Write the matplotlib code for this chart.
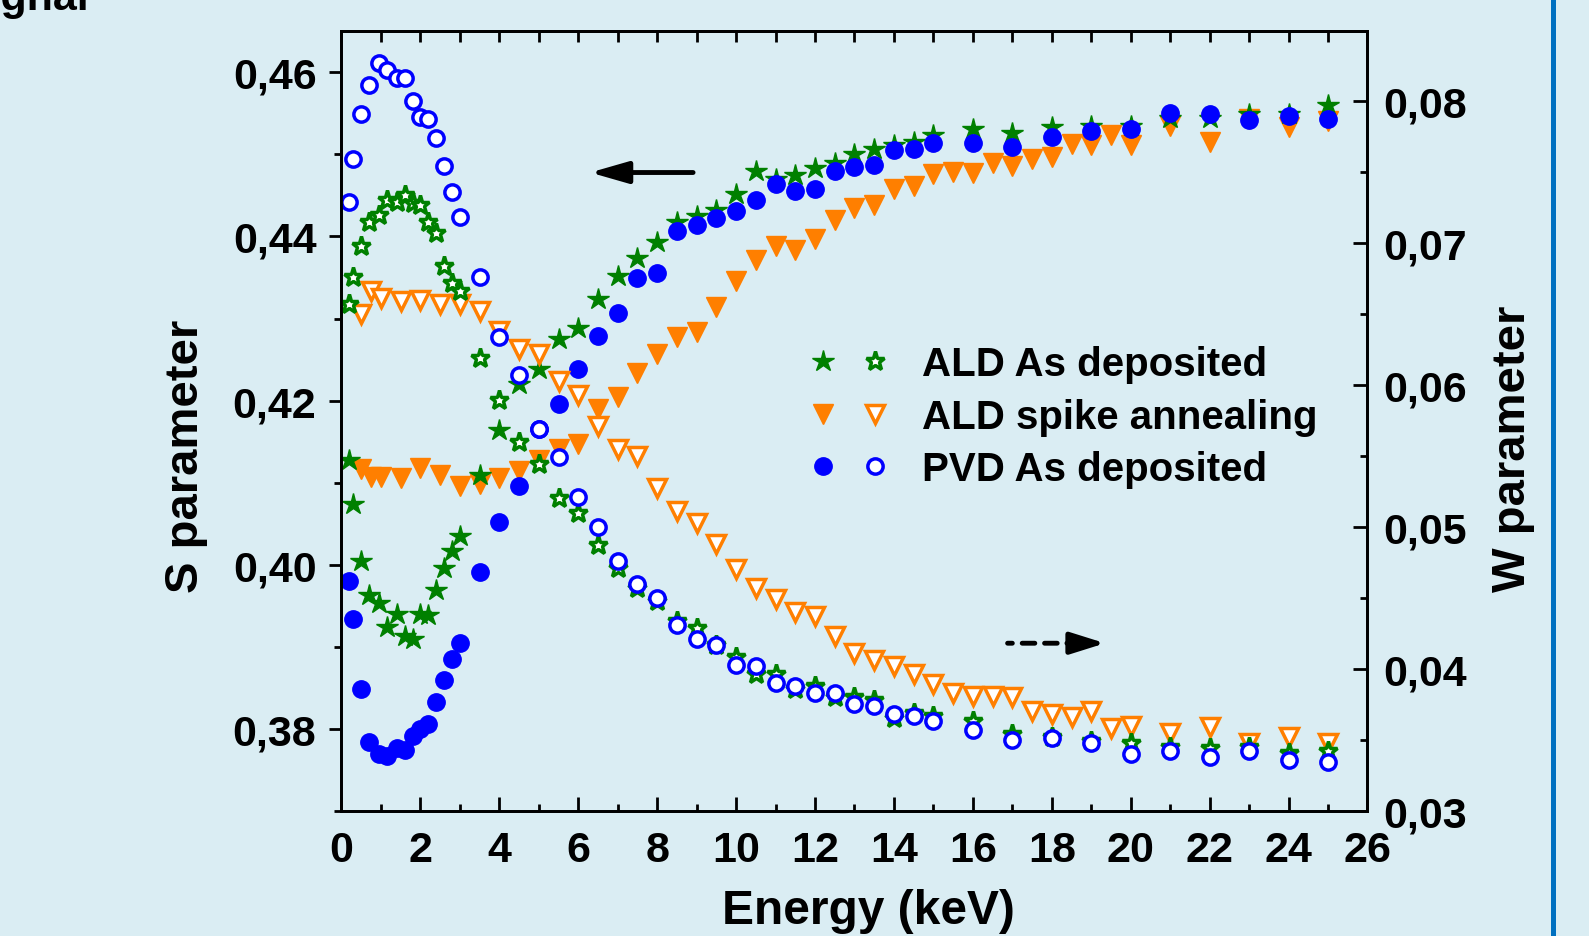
import numpy as np
import matplotlib
matplotlib.use('Agg')
import matplotlib.pyplot as plt
from matplotlib.ticker import FuncFormatter, MultipleLocator
from matplotlib.legend_handler import HandlerTuple
from matplotlib.lines import Line2D

# energies (keV) for ALD as deposited and PVD as deposited
energy = [0.2, 0.3, 0.5, 0.7, 0.95, 1.15, 1.4, 1.6, 1.8, 2.0, 2.2, 2.4, 2.6, 2.8, 3.0,
          3.5, 4.0, 4.5, 5.0, 5.5, 6.0, 6.5, 7.0, 7.5, 8.0, 8.5, 9.0, 9.5, 10.0, 10.5,
          11.0, 11.5, 12.0, 12.5, 13.0, 13.5, 14.0, 14.5, 15.0,
          16, 17, 18, 19, 20, 21, 22, 23, 24, 25]
# energies (keV) for ALD spike annealing
energy_spike = [0.5, 0.75, 1.0, 1.5, 2.0, 2.5, 3.0, 3.5, 4.0, 4.5, 5.0, 5.5, 6.0, 6.5,
                7.0, 7.5, 8.0, 8.5, 9.0, 9.5, 10.0, 10.5, 11.0, 11.5, 12.0, 12.5, 13.0,
                13.5, 14.0, 14.5, 15.0, 15.5, 16.0, 16.5, 17.0, 17.5, 18.0, 18.5, 19.0,
                19.5, 20.0, 21, 22, 23, 24, 25]

s_ald = [0.4127, 0.4074, 0.4005, 0.3963, 0.3953, 0.3924, 0.3940, 0.3913, 0.3909, 0.3940,
         0.3939, 0.3969, 0.3996, 0.4017, 0.4035, 0.4109, 0.4164, 0.4220, 0.4239, 0.4275,
         0.4288, 0.4324, 0.4352, 0.4374, 0.4393, 0.4418, 0.4425, 0.4432, 0.4452, 0.4480,
         0.4470, 0.4475, 0.4484, 0.4489, 0.4501, 0.4507, 0.4512, 0.4515, 0.4524,
         0.4531, 0.4526, 0.4533, 0.4535, 0.4535, 0.4544, 0.4544, 0.4549, 0.4549, 0.4560]
w_ald = [0.0657, 0.0676, 0.0698, 0.0715, 0.0720, 0.0730, 0.0729, 0.0734, 0.0728, 0.0727,
         0.0715, 0.0707, 0.0684, 0.0672, 0.0666, 0.0619, 0.0589, 0.0560, 0.0544, 0.0520,
         0.0510, 0.0487, 0.0471, 0.0457, 0.0448, 0.0434, 0.0429, 0.0417, 0.0408, 0.0396,
         0.0396, 0.0386, 0.0388, 0.0380, 0.0380, 0.0378, 0.0365, 0.0369, 0.0367,
         0.0363, 0.0354, 0.0352, 0.0349, 0.0348, 0.0345, 0.0344, 0.0345, 0.0341, 0.0342]

s_pvd = [0.3980, 0.3934, 0.3848, 0.3784, 0.3769, 0.3767, 0.3777, 0.3774, 0.3791, 0.3800,
         0.3806, 0.3832, 0.3859, 0.3885, 0.3904, 0.3991, 0.4052, 0.4096, 0.4165, 0.4196,
         0.4238, 0.4279, 0.4307, 0.4349, 0.4356, 0.4407, 0.4414, 0.4423, 0.4431, 0.4445,
         0.4464, 0.4456, 0.4458, 0.4480, 0.4485, 0.4487, 0.4506, 0.4507, 0.4514,
         0.4514, 0.4509, 0.4521, 0.4529, 0.4531, 0.4550, 0.4549, 0.4542, 0.4547, 0.4543]
w_pvd = [0.0729, 0.0759, 0.0791, 0.0811, 0.0827, 0.0822, 0.0816, 0.0816, 0.0800, 0.0789,
         0.0787, 0.0774, 0.0754, 0.0736, 0.0718, 0.0676, 0.0634, 0.0607, 0.0569, 0.0549,
         0.0521, 0.0500, 0.0476, 0.0460, 0.0450, 0.0431, 0.0421, 0.0417, 0.0403, 0.0402,
         0.0390, 0.0388, 0.0383, 0.0383, 0.0375, 0.0374, 0.0368, 0.0367, 0.0363,
         0.0357, 0.0350, 0.0351, 0.0348, 0.0340, 0.0342, 0.0338, 0.0342, 0.0336, 0.0334]

s_spike = [0.4117, 0.4107, 0.4107, 0.4105, 0.4118, 0.4109, 0.4096, 0.4098, 0.4105, 0.4114,
           0.4127, 0.4141, 0.4147, 0.4190, 0.4204, 0.4233, 0.4257, 0.4277, 0.4284, 0.4314,
           0.4346, 0.4371, 0.4389, 0.4384, 0.4397, 0.4420, 0.4435, 0.4439, 0.4458, 0.4461,
           0.4476, 0.4479, 0.4477, 0.4490, 0.4486, 0.4494, 0.4497, 0.4513, 0.4511, 0.4524,
           0.4511, 0.4535, 0.4515, 0.4543, 0.4533, 0.4541]
w_spike = [0.0650, 0.0666, 0.0661, 0.0659, 0.0660, 0.0657, 0.0657, 0.0652, 0.0638, 0.0625,
           0.0622, 0.0603, 0.0593, 0.0571, 0.0555, 0.0550, 0.0527, 0.0511, 0.0503, 0.0488,
           0.0470, 0.0457, 0.0449, 0.0440, 0.0437, 0.0423, 0.0411, 0.0406, 0.0402, 0.0396,
           0.0389, 0.0383, 0.0381, 0.0381, 0.0380, 0.0370, 0.0368, 0.0366, 0.0370, 0.0358,
           0.0360, 0.0355, 0.0359, 0.0348, 0.0352, 0.0348]

labels = ['ALD As deposited', 'ALD spike annealing', 'PVD As deposited']


def comma(x, pos):
    return ('%.2f' % x).replace('.', ',')


bg = '#daedf3'
green = '#008000'
orange = '#ff7f00'
blue = '#0000ff'

plt.rcParams['font.family'] = ['Liberation Sans', 'DejaVu Sans']
plt.rcParams['font.weight'] = 'bold'
plt.rcParams['axes.labelweight'] = 'bold'

fig = plt.figure(figsize=(15.89, 9.37), dpi=100, facecolor=bg)
ax = fig.add_axes([0.2149, 0.1337, 0.6457, 0.8317])
ax.set_facecolor(bg)
ax2 = ax.twinx()

# S parameter: filled markers
o1, = ax.plot(energy_spike, s_spike, 'v', color=orange, ms=14, ls='none')
g1, = ax.plot(energy, s_ald, '*', color=green, ms=16, ls='none')
b1, = ax.plot(energy, s_pvd, 'o', color=blue, ms=12.5, ls='none')

# W parameter: open markers
o2, = ax2.plot(energy_spike, w_spike, 'v', mec=orange, mfc='white', mew=2.5, ms=12.5, ls='none')
g2, = ax2.plot(energy, w_ald, '*', mec=green, mfc='white', mew=2.5, ms=14, ls='none')
b2, = ax2.plot(energy, w_pvd, 'o', mec=blue, mfc='white', mew=2.5, ms=11, ls='none')

ax.set_xlim(0, 26)
ax.set_ylim(0.37, 0.465)
ax2.set_ylim(0.03, 0.0849)

ax.xaxis.set_major_locator(MultipleLocator(2))
ax.xaxis.set_minor_locator(MultipleLocator(1))
ax.yaxis.set_major_locator(MultipleLocator(0.02))
ax.yaxis.set_minor_locator(MultipleLocator(0.01))
ax2.yaxis.set_major_locator(MultipleLocator(0.01))
ax2.yaxis.set_minor_locator(MultipleLocator(0.005))
ax.yaxis.set_major_formatter(FuncFormatter(comma))
ax2.yaxis.set_major_formatter(FuncFormatter(comma))

ax.tick_params(axis='x', which='major', direction='in', length=10, width=2, labelsize=31, pad=14)
ax.tick_params(axis='x', which='minor', direction='in', length=5, width=2)
ax.tick_params(axis='y', which='major', direction='out', length=9, width=2, labelsize=31, pad=9)
ax.tick_params(axis='y', which='minor', direction='out', length=5, width=2)
ax2.tick_params(axis='y', which='major', direction='in', length=10, width=2, labelsize=31, pad=11)
ax2.tick_params(axis='y', which='minor', direction='in', length=5, width=2)

top = ax.secondary_xaxis('top')
top.set_xticks(np.arange(0, 27, 1))
top.tick_params(direction='in', length=8, width=2, labeltop=False)

for a in (ax, ax2):
    for sp in a.spines.values():
        sp.set_linewidth(2)
top.spines['top'].set_linewidth(2)

ax.set_xlabel('Energy (keV)', fontsize=34.5)
ax.set_ylabel('S parameter', fontsize=34)
ax2.set_ylabel('W parameter', fontsize=34)
ax.xaxis.set_label_coords(0.514, -0.099)
ax.yaxis.set_label_coords(-0.13, 0.456)
ax2.yaxis.set_label_coords(1.12, 0.466)

# arrows showing which axis belongs to which marker type
ax.annotate('', xy=(6.3, 0.4478), xytext=(8.91, 0.4478),
            arrowprops=dict(arrowstyle='-|>,head_length=1.15,head_width=0.33', lw=3.5,
                            color='black', mutation_scale=20, shrinkA=0, shrinkB=0))
ax2.annotate('', xy=(17.0, 0.0418), xytext=(16.88, 0.0418),
             arrowprops=dict(arrowstyle='-', lw=3.5, color='black', shrinkA=0, shrinkB=0))
ax2.annotate('', xy=(18.55, 0.0418), xytext=(17.25, 0.0418),
             arrowprops=dict(arrowstyle='-', lw=3.5, linestyle=(0, (2.6, 2.0)),
                             color='black', shrinkA=0, shrinkB=0))
ax2.annotate('', xy=(19.35, 0.0418), xytext=(18.5, 0.0418),
             arrowprops=dict(arrowstyle='-|>,head_length=1.05,head_width=0.33', lw=3.5,
                             color='black', mutation_scale=20, shrinkA=0, shrinkB=0))

ax2.legend([(g1, g2), (o1, o2), (b1, b2)], labels,
           handler_map={tuple: HandlerTuple(ndivide=None, pad=0)},
           loc='upper left', bbox_to_anchor=(0.4432, 0.597), frameon=False,
           fontsize=29, handlelength=2.62, handletextpad=0.5, labelspacing=0.36,
           borderpad=0, borderaxespad=0, numpoints=1)

fig.text(0.056, 0.989, 'Signal', ha='right', va='baseline', fontsize=31, fontweight='bold')
fig.add_artist(Line2D([0.9773, 0.9773], [0, 1], transform=fig.transFigure,
                      color='#0070c0', lw=3.6))

fig.savefig('out.png', dpi=100, facecolor=bg)
